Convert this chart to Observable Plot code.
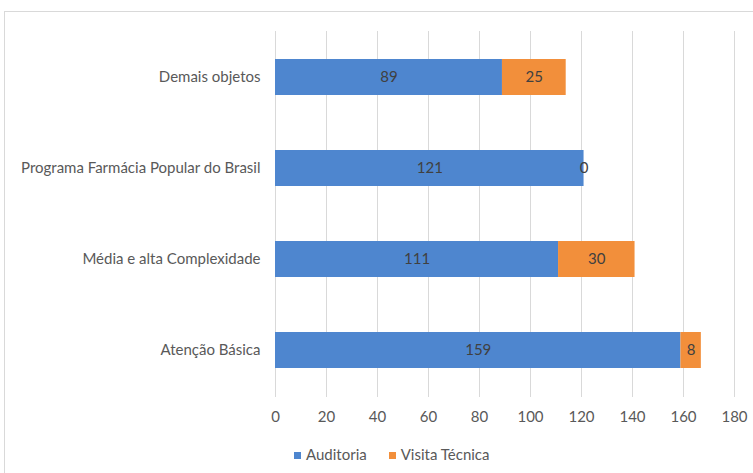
<!DOCTYPE html>
<html>
<head>
<meta charset="utf-8">
<script src="https://cdn.jsdelivr.net/npm/d3@7"></script>
<script src="https://cdn.jsdelivr.net/npm/@observablehq/plot@0.6"></script>
<style>
  html, body { margin: 0; padding: 0; background: #fff; }
  body { width: 753px; height: 473px; overflow: hidden; position: relative; font-family: Lato, "Open Sans", sans-serif; }
  #frame { position: absolute; left: 4px; top: 11px; width: 760px; height: 470px; border: 1px solid #d9d9d9; box-sizing: border-box; }
  #chart { position: absolute; left: 0; top: 0; }
  #legend { position: absolute; left: 294px; top: 445px; display: flex; gap: 22px; font-size: 15px; color: #595959; }
  #legend span.sw { display: inline-block; width: 7px; height: 7px; margin-right: 5px; vertical-align: 1px; }
</style>
</head>
<body>
<div id="frame"></div>
<div id="chart"></div>
<div id="legend"></div>
<script>
const categories = ["Demais objetos", "Programa Farmácia Popular do Brasil", "Média e alta Complexidade", "Atenção Básica"];
const series = ["Auditoria", "Visita Técnica"];
const auditoria = [89, 121, 111, 159];
const visitaTecnica = [25, 0, 30, 8];
const xTicks = [0, 20, 40, 60, 80, 100, 120, 140, 160, 180];
const colors = ["#4e86cf", "#f28f3b"];

const rows = [];
categories.forEach((c, i) => {
  rows.push({category: c, series: series[0], value: auditoria[i]});
  rows.push({category: c, series: series[1], value: visitaTecnica[i]});
});

const chart = Plot.plot({
  width: 753,
  height: 440,
  marginLeft: 275,
  marginRight: 19,
  marginTop: 31,
  marginBottom: 43,
  style: {fontFamily: "Lato, 'Open Sans', sans-serif", fontSize: "15px", color: "#595959", background: "transparent"},
  x: {domain: [0, 180], ticks: xTicks, tickSize: 0, tickPadding: 14, label: null},
  y: {domain: categories, paddingInner: 0.6, paddingOuter: 0.3, tickSize: 0, tickPadding: 15, label: null},
  color: {domain: series, range: colors},
  marks: [
    Plot.gridX(xTicks, {stroke: "#d9d9d9", strokeOpacity: 1, strokeWidth: 1}),
    Plot.barX(rows, Plot.stackX({x: "value", y: "category", fill: "series", z: "series", order: series})),
    Plot.textX(rows, Plot.stackX({x: "value", y: "category", z: "series", order: series, text: d => String(d.value), fill: "#404040", fontSize: 15}))
  ]
});
document.getElementById("chart").appendChild(chart);

const legend = document.getElementById("legend");
series.forEach((s, i) => {
  const item = document.createElement("div");
  item.innerHTML = `<span class="sw" style="background:${colors[i]}"></span>${s}`;
  legend.appendChild(item);
});
</script>
</body>
</html>
